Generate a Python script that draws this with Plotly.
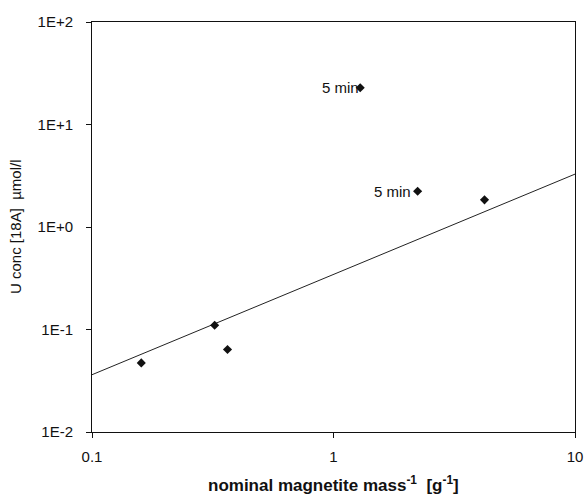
import math
import plotly.graph_objects as go

# data points (x: nominal magnetite mass^-1 [g^-1], y: U conc [µmol/l])
pt_x = [0.160, 0.322, 0.364, 1.29, 2.23, 4.22]
pt_y = [0.0472, 0.110, 0.0638, 22.8, 2.23, 1.84]

# trend line endpoints
fit_x = [0.1, 10]
fit_y = [0.0362, 3.28]

# labelled points
lab_x = [1.29, 2.23]
lab_y = [22.8, 2.23]
lab_text = ["5 min", "5 min"]

x_tickvals = [0.1, 1, 10]
x_ticktext = ["0.1", "1", "10"]
y_tickvals = [0.01, 0.1, 1, 10, 100]
y_ticktext = ["1E-2", "1E-1", "1E+0", "1E+1", "1E+2"]

FONT = "Liberation Sans, Arial, sans-serif"

fig = go.Figure()
fig.add_trace(go.Scatter(x=fit_x, y=fit_y, mode="lines",
                         line=dict(color="#222222", width=1), showlegend=False,
                         hoverinfo="skip"))
fig.add_trace(go.Scatter(x=pt_x, y=pt_y, mode="markers",
                         marker=dict(symbol="diamond", size=7, color="#111111"),
                         showlegend=False))

for x, y, t, xs in zip(lab_x, lab_y, lab_text, [1, -5]):
    fig.add_annotation(x=math.log10(x), y=math.log10(y), xref="x", yref="y", text=t,
                       showarrow=False, xanchor="right", yanchor="middle", xshift=xs,
                       font=dict(family=FONT, size=15, color="#111111"))

fig.add_annotation(x=0.5, y=0, xref="paper", yref="paper",
                   text="<b>nominal magnetite mass<sup>-1</sup>  [g<sup>-1</sup>]</b>",
                   showarrow=False, xanchor="center", yanchor="middle", yshift=-52,
                   font=dict(family=FONT, size=17, color="#111111"))
fig.add_annotation(x=0, y=0.5, xref="paper", yref="paper",
                   text="U conc [18A]  µmol/l", textangle=-90,
                   showarrow=False, xanchor="center", yanchor="middle", xshift=-77,
                   font=dict(family=FONT, size=15, color="#111111"))

fig.update_xaxes(type="log", range=[-1, 1], tickvals=x_tickvals, ticktext=x_ticktext,
                 showgrid=False, zeroline=False, showline=True, linecolor="#111111",
                 linewidth=1, mirror=True, ticks="outside", ticklen=5, tickcolor="#111111",
                 ticklabelstandoff=6, automargin=False,
                 tickfont=dict(family=FONT, size=15, color="#111111"))
fig.update_yaxes(type="log", range=[-2, 2], tickvals=y_tickvals, ticktext=y_ticktext,
                 showgrid=False, zeroline=False, showline=True, linecolor="#111111",
                 linewidth=1, mirror=True, ticks="outside", ticklen=5, tickcolor="#111111",
                 ticklabelstandoff=10, automargin=False,
                 tickfont=dict(family=FONT, size=15, color="#111111"))

fig.update_layout(width=584, height=498, paper_bgcolor="white",
                  plot_bgcolor="white",
                  margin=dict(l=91.5, r=9, t=21.5, b=66), autosize=False)

fig.write_html("out.html", config={"displayModeBar": False},
               post_script="document.body.style.margin='0';document.body.style.overflow='hidden';")
